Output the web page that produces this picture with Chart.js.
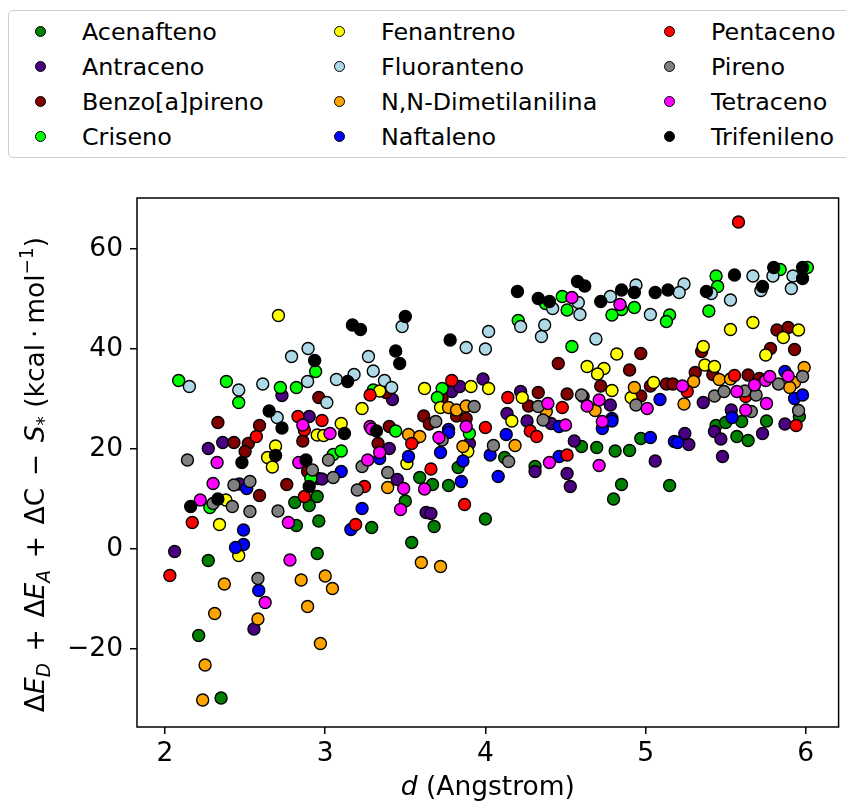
<!DOCTYPE html>
<html>
<head>
<meta charset="utf-8">
<script src="https://cdn.jsdelivr.net/npm/chart.js@4/dist/chart.umd.min.js"></script>
<style>
  html, body { margin: 0; padding: 0; background: #fff; overflow: hidden; }
  #wrap { position: relative; width: 846px; height: 803px; overflow: hidden; }
  #chart { position: absolute; left: 0; top: 0; }
  #legend {
    position: absolute; left: 8px; top: 10px; width: 900px; height: 148px;
    box-sizing: border-box; border: 1px solid #cfcfcf; border-radius: 5px;
    background: #fff; padding: 0 0 0 26px;
    display: grid; grid-auto-flow: column;
    grid-template-rows: repeat(4, 35px); grid-template-columns: 299px 330px auto;
    align-content: center;
    font-family: "DejaVu Sans", sans-serif; font-size: 23.8px; color: #000;
  }
  .item { display: flex; align-items: center; white-space: nowrap; }
  .mk { width: 9px; height: 9px; border: 1px solid #000; border-radius: 50%; margin-right: 36px; flex: none; }
</style>
</head>
<body>
<div id="wrap">
  <canvas id="chart" width="846" height="803"></canvas>
  <div id="legend"></div>
</div>
<script>
// Compound names shown in the legend, with their marker colours
const compounds = ['Acenafteno', 'Antraceno', 'Benzo[a]pireno', 'Criseno', 'Fenantreno', 'Fluoranteno',
  'N,N-Dimetilanilina', 'Naftaleno', 'Pentaceno', 'Pireno', 'Tetraceno', 'Trifenileno'];
const markerColors = ['#008000', '#4b0082', '#800000', '#00ff00', '#ffff00', '#add8e6',
  '#ffa500', '#0000ff', '#ff0000', '#808080', '#ff00ff', '#000000'];

// Axis ticks
const xTicks = [2, 3, 4, 5, 6];
const yTicks = [-20, 0, 20, 40, 60];

// [d (Angstrom), energy (kcal/mol)] for each compound
const acenafteno = [[2.27,-2.3],[2.21,-17.3],[2.35,-29.8],[2.82,4.7],[2.81,9.3],[2.90,8.7],[2.95,10.5],[2.96,5.6],[2.95,-0.9],
  [3.59,14.3],[3.67,12.9],[3.77,12.7],[3.83,16.3],[3.29,4.3],[3.68,4.5],[3.54,1.3],[4.00,6.0],[3.50,9.6],[4.12,18.3],[4.31,16.5],
  [4.60,20.5],[4.695,20.3],[4.81,19.6],[4.90,19.7],[4.97,22.1],[4.85,12.9],[4.80,10.0],[5.15,12.7],[5.44,24.7],[5.50,25.3],
  [5.60,25.5],[5.57,22.5],[5.64,21.7],[5.755,25.6],[5.96,26.5]];
const antraceno = [[2.06,-0.5],[2.27,20.1],[2.36,21.3],[2.465,13.0],[2.555,-16.0],[2.73,30.7],[2.90,26.5],[2.955,14.1],[2.98,14.0],
  [3.42,29.9],[3.79,31.5],[3.84,32.5],[3.985,34.0],[3.56,22.1],[3.40,20.1],[3.45,13.9],[3.63,7.3],[3.66,7.1],[3.90,21.1],[4.22,31.5],
  [4.135,27.1],[4.26,25.6],[4.41,25.1],[4.78,28.8],[4.31,15.5],[4.555,21.6],[4.51,15.1],[4.53,12.5],[5.06,17.6],[5.36,29.3],
  [5.535,27.8],[5.245,23.1],[5.27,20.9],[5.48,18.5],[5.43,23.5],[5.47,22.0],[5.73,23.1],[5.87,25.0]];
const benzoAPireno = [[2.96,30.3],[2.33,25.3],[2.59,24.7],[2.43,21.3],[2.52,21.1],[2.50,19.5],[2.86,21.6],[2.89,15.5],[2.59,10.7],
  [2.76,12.9],[3.38,31.3],[3.73,30.3],[3.615,26.6],[3.65,25.0],[3.82,26.6],[3.88,26.1],[3.40,24.5],[3.33,21.1],[4.97,39.1],
  [4.455,37.1],[4.90,35.8],[4.72,32.6],[4.51,31.0],[4.33,31.3],[4.61,30.5],[4.97,30.6],[5.03,32.6],[5.13,33.0],[4.27,28.6],
  [5.82,43.8],[5.89,44.3],[5.78,40.1],[5.93,39.9],[5.35,39.5],[5.31,35.3],[5.42,34.9],[5.64,34.8],[5.71,34.1],[5.17,33.0]];
const criseno = [[2.085,33.7],[2.383,33.5],[2.46,29.3],[2.72,32.3],[2.82,32.3],[2.94,35.5],[3.30,31.8],[3.73,32.1],[3.70,30.3],
  [3.44,23.6],[3.90,23.1],[3.05,18.9],[3.10,19.6],[2.28,8.3],[2.91,14.1],[4.205,45.7],[4.48,50.5],[4.51,47.8],[4.54,40.5],
  [4.85,47.9],[4.79,46.8],[4.93,48.3],[5.15,46.8],[5.13,45.5],[5.84,55.9],[6.01,56.3],[5.44,54.6],[5.45,52.5],[5.395,47.6],[4.375,49.1]];
const fenantreno = [[2.708,46.7],[2.69,20.6],[2.64,18.3],[2.67,16.4],[2.95,22.8],[2.38,9.8],[2.34,4.9],[2.46,-1.3],[3.34,31.6],
  [3.23,28.1],[3.10,25.1],[3.62,32.1],[3.91,32.5],[4.02,32.1],[3.72,28.3],[2.99,22.7],[3.89,19.5],[3.51,17.1],[4.82,39.0],
  [4.635,36.5],[4.74,36.1],[4.70,35.0],[4.79,31.7],[4.23,30.3],[4.91,30.3],[5.05,33.3],[4.165,25.6],[5.53,43.9],[5.67,45.3],
  [5.955,43.8],[5.86,42.3],[5.75,38.8],[5.36,40.5],[5.37,36.8],[5.43,36.5]];
const fluoranteno = [[2.893,40.1],[2.79,38.5],[2.152,32.5],[2.46,31.8],[2.61,33.0],[2.89,33.5],[2.70,26.3],[3.48,44.5],[3.88,40.3],
  [4.02,43.5],[4.00,40.0],[3.27,38.5],[3.30,35.6],[3.18,34.9],[3.07,33.9],[3.37,33.7],[3.415,32.3],[3.01,29.3],[4.58,49.3],
  [4.59,46.9],[4.42,48.1],[4.22,44.5],[4.37,44.8],[4.35,42.5],[4.94,52.8],[4.78,50.5],[5.03,46.9],[4.69,42.0],[5.795,54.6],
  [5.92,54.6],[5.91,52.1],[5.67,54.6],[5.72,51.7],[5.41,51.1],[5.53,49.8],[5.24,53.0],[5.21,51.3]];
const dimetilanilina = [[2.37,-7.0],[2.85,-6.2],[2.89,-11.5],[2.31,-12.9],[2.58,-14.0],[2.25,-23.2],[2.235,-30.2],[2.97,-18.9],
  [3.00,-5.4],[3.045,-7.9],[3.60,-2.7],[3.72,-3.5],[3.77,28.3],[3.82,27.8],[3.88,28.6],[3.52,22.9],[3.59,22.5],[3.86,20.5],
  [3.39,12.3],[4.185,20.7],[4.38,27.5],[4.685,27.7],[4.93,32.3],[5.30,33.5],[5.46,33.9],[5.53,34.0],[5.93,33.3],[5.99,36.3],
  [5.90,32.3],[5.24,29.0]];
const naftaleno = [[2.51,12.1],[2.49,3.8],[2.49,0.9],[2.44,0.3],[2.585,-8.3],[3.77,23.9],[3.34,18.1],[3.77,23.3],[4.03,18.8],
  [3.72,19.3],[3.52,18.5],[3.86,17.6],[3.85,13.5],[3.23,8.1],[3.16,3.9],[3.10,15.5],[4.79,26.1],[4.46,24.5],[4.73,24.1],[4.79,25.6],
  [4.13,22.9],[4.08,14.5],[4.46,18.5],[5.03,22.3],[5.18,21.5],[5.09,29.9],[5.87,35.5],[5.93,30.1],[5.98,30.8],[5.20,21.3],[5.54,26.3]];
const pentaceno = [[2.83,26.5],[2.87,23.8],[2.57,22.5],[2.17,5.3],[2.87,10.5],[2.03,-5.3],[3.28,30.8],[2.98,25.7],[3.79,33.7],
  [4.00,24.3],[3.54,21.1],[3.66,16.0],[3.87,8.9],[3.19,4.9],[3.245,12.5],[4.14,30.3],[4.48,28.3],[4.28,23.6],[4.32,22.5],
  [4.51,18.8],[5.555,34.7],[5.625,30.5],[5.26,31.5],[5.94,24.7],[5.58,65.4]];
const pireno = [[2.14,17.8],[2.92,15.8],[2.43,12.8],[2.53,13.5],[2.30,9.1],[2.42,8.5],[2.53,7.5],[2.705,7.6],[2.58,-5.9],
  [3.93,28.5],[3.69,25.5],[3.73,21.8],[4.05,20.7],[3.39,15.3],[3.20,11.8],[3.23,16.5],[3.02,17.8],[3.05,14.3],[4.60,30.8],
  [4.94,28.8],[4.33,28.5],[4.36,25.8],[4.145,17.5],[5.83,33.0],[5.98,34.5],[5.43,30.6],[5.49,31.5],[5.62,31.6],[5.69,30.8],
  [5.66,27.5],[5.955,27.7]];
const tetraceno = [[2.86,24.8],[2.325,17.3],[2.835,17.3],[2.30,13.1],[2.22,9.8],[2.77,5.3],[2.78,-2.2],[2.625,-10.7],[3.88,24.5],
  [3.28,24.5],[3.03,23.1],[3.29,24.0],[3.34,19.3],[3.71,22.3],[3.62,12.0],[3.49,12.1],[3.47,7.9],[3.265,17.8],[4.54,50.3],
  [4.84,48.9],[4.71,29.8],[4.635,28.6],[5.01,28.1],[4.39,29.1],[4.50,24.8],[4.73,25.5],[4.40,17.3],[4.71,16.7],[5.68,32.8],
  [5.75,33.7],[5.775,34.5],[5.89,34.6],[5.57,31.5],[5.755,29.1],[5.23,32.6],[5.625,27.8]];
const trifenileno = [[2.934,37.7],[2.65,27.6],[2.73,24.2],[2.48,17.3],[2.69,18.7],[2.88,17.8],[2.90,12.5],[2.16,8.5],[2.33,10.0],
  [3.50,46.5],[3.17,44.8],[3.22,43.9],[3.78,41.8],[3.44,39.6],[3.465,37.1],[3.14,33.5],[3.12,23.1],[3.32,23.6],[4.575,53.5],
  [4.62,52.6],[4.20,51.5],[4.33,50.1],[4.40,49.5],[4.72,49.5],[4.85,51.8],[4.93,51.3],[5.06,51.3],[5.14,51.8],[5.80,56.3],
  [5.98,56.3],[5.98,54.1],[5.555,54.8],[5.73,52.5],[5.38,51.5]];

const seriesData = [acenafteno, antraceno, benzoAPireno, criseno, fenantreno, fluoranteno,
  dimetilanilina, naftaleno, pentaceno, pireno, tetraceno, trifenileno];

const FONT = '"DejaVu Sans", sans-serif';
const AXIS_PX = 26.5;

// later compounds are painted on top of earlier ones
const datasets = compounds.map((name, i) => ({
  label: name,
  data: seriesData[i].map(([x, y]) => ({ x, y })),
  backgroundColor: markerColors[i],
  borderColor: '#000',
  borderWidth: 1.4,
  pointRadius: 6,
  pointHoverRadius: 6,
  order: compounds.length - 1 - i
}));

// HTML legend, three columns filled top to bottom
const legendEl = document.getElementById('legend');
compounds.forEach((name, i) => {
  const item = document.createElement('div');
  item.className = 'item';
  const mk = document.createElement('span');
  mk.className = 'mk';
  mk.style.background = markerColors[i];
  const tx = document.createElement('span');
  tx.textContent = name;
  item.appendChild(mk);
  item.appendChild(tx);
  legendEl.appendChild(item);
});

// draws a run of text pieces (italic / sub / superscript / gaps) centred on x=0, baseline y=0
function drawRuns(ctx, runs, size) {
  const pieces = runs.map(r => {
    if (r.gap) return { gap: r.gap * size, w: r.gap * size };
    const s = size * (r.sc || 1);
    const font = (r.it ? 'italic ' : '') + s + 'px ' + FONT;
    ctx.font = font;
    return { t: r.t, font, w: ctx.measureText(r.t).width, dy: (r.dy || 0) * size };
  });
  const total = pieces.reduce((a, p) => a + p.w, 0);
  let x = -total / 2;
  ctx.textBaseline = 'alphabetic';
  ctx.textAlign = 'left';
  pieces.forEach(p => {
    if (!p.gap) {
      ctx.font = p.font;
      ctx.fillText(p.t, x, p.dy);
    }
    x += p.w;
  });
}

const OP_GAP = 0.44;
const yTitleRuns = [
  { t: 'Δ' }, { t: 'E', it: true }, { t: 'D', it: true, sc: 0.7, dy: 0.22 },
  { gap: OP_GAP }, { t: '+' }, { gap: OP_GAP },
  { t: 'Δ' }, { t: 'E', it: true }, { t: 'A', it: true, sc: 0.7, dy: 0.22 },
  { gap: OP_GAP }, { t: '+' }, { gap: OP_GAP },
  { t: 'ΔC' },
  { gap: OP_GAP }, { t: '−' }, { gap: OP_GAP },
  { t: 'S', it: true }, { t: '*', sc: 0.7, dy: 0.22 },
  { t: ' (kcal' }, { gap: 0.22 }, { t: '·' }, { gap: 0.22 }, { t: 'mol' }, { t: '−1', sc: 0.7, dy: -0.42 }, { t: ')' }
];
const xTitleRuns = [{ t: 'd', it: true }, { t: ' (Angstrom)' }];

const framePlugin = {
  id: 'frameAndTitles',
  afterDraw(chart) {
    const { ctx, chartArea: a } = chart;
    ctx.save();
    ctx.strokeStyle = '#000';
    ctx.lineWidth = 1.5;
    ctx.strokeRect(a.left, a.top, a.right - a.left, a.bottom - a.top);
    ctx.fillStyle = '#000';
    // x title
    ctx.save();
    ctx.translate((a.left + a.right) / 2, 795);
    drawRuns(ctx, xTitleRuns, AXIS_PX);
    ctx.restore();
    // y title, rotated
    ctx.save();
    ctx.translate(44, (a.top + a.bottom) / 2 + 12);
    ctx.rotate(-Math.PI / 2);
    drawRuns(ctx, yTitleRuns, AXIS_PX);
    ctx.restore();
    ctx.restore();
  }
};

Chart.defaults.color = '#000';
Chart.defaults.font.family = FONT;

new Chart(document.getElementById('chart'), {
  type: 'scatter',
  data: { datasets },
  options: {
    responsive: false,
    animation: false,
    devicePixelRatio: 1,
    layout: { padding: { top: 198, right: 1, left: 0, bottom: 0 } },
    plugins: { legend: { display: false }, tooltip: { enabled: false } },
    scales: {
      x: {
        type: 'linear', min: 1.825, max: 6.205,
        afterBuildTicks: s => { s.ticks = xTicks.map(v => ({ value: v })); },
        afterFit: s => { s.height = 76; },
        border: { display: false },
        grid: { display: true, drawOnChartArea: false, drawTicks: true, tickLength: 7, color: '#000', lineWidth: 1.5 },
        ticks: { font: { size: AXIS_PX }, padding: 4, maxRotation: 0, color: '#000' }
      },
      y: {
        type: 'linear', min: -35.6, max: 70.2,
        afterBuildTicks: s => { s.ticks = yTicks.map(v => ({ value: v })); },
        afterFit: s => { s.width = 137; },
        border: { display: false },
        grid: { display: true, drawOnChartArea: false, drawTicks: true, tickLength: 7, color: '#000', lineWidth: 1.5 },
        ticks: { font: { size: AXIS_PX }, padding: 7, color: '#000',
          callback: v => (v < 0 ? '−' + Math.abs(v) : String(v)) }
      }
    }
  },
  plugins: [framePlugin]
});
</script>
</body>
</html>
